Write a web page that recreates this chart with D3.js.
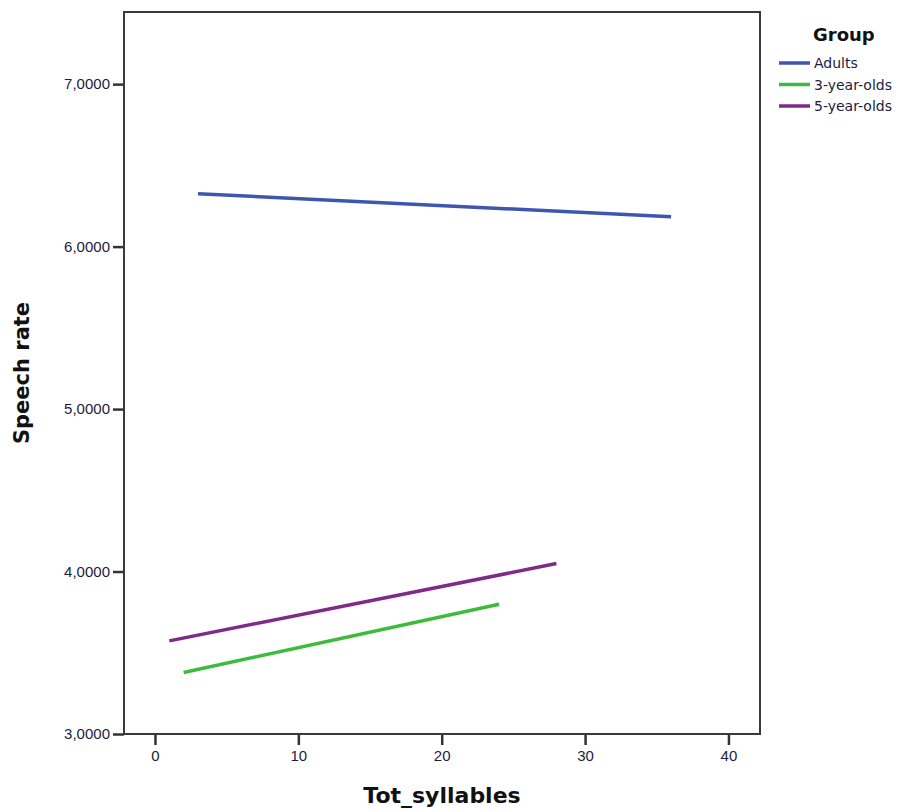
<!DOCTYPE html>
<html>
<head>
<meta charset="utf-8">
<script src="https://cdn.jsdelivr.net/npm/d3@7"></script>
<style>
  body { margin: 0; background: #fff; }
  svg { display: block; font-family: "DejaVu Sans", Verdana, sans-serif; }
</style>
</head>
<body>
<svg id="chart" width="924" height="810"></svg>
<script>
// fit lines per group: [Tot_syllables, Speech rate] at both ends
const groups = ['Adults', '3-year-olds', '5-year-olds'];
const colors = ['#3d57b0', '#3dbb3d', '#7f2a8a'];
const adults = [[3, 6.325], [36, 6.184]];
const threeYear = [[2, 3.379], [24, 3.799]];
const fiveYear = [[1, 3.573], [28, 4.049]];
const xTicks = [0, 10, 20, 30, 40];
const yTicks = [3, 4, 5, 6, 7];

const series = [adults, threeYear, fiveYear];

const plotLeft = 124, plotRight = 760, plotTop = 12, plotBottom = 734;

const svg = d3.select('#chart');

const x = d3.scaleLinear().domain([-2.16, 42.2]).range([plotLeft, plotRight]);
const y = d3.scaleLinear().domain([3, 7.444]).range([plotBottom, plotTop]);

const fmt = v => d3.format('.4f')(v).replace('.', ',');

// y axis
const yAxis = svg.append('g')
  .attr('transform', `translate(${plotLeft},0)`)
  .call(d3.axisLeft(y).tickValues(yTicks).tickFormat(fmt).tickSize(11).tickPadding(3));
yAxis.select('.domain').remove();

// x axis
const xAxis = svg.append('g')
  .attr('transform', `translate(0,${plotBottom})`)
  .call(d3.axisBottom(x).tickValues(xTicks).tickSize(11).tickPadding(5));
xAxis.select('.domain').remove();

svg.selectAll('.tick line').attr('stroke', '#333').attr('stroke-width', 2.5);
svg.selectAll('.tick text').attr('fill', '#1c1c3c').style('font-size', '15px');

// plot frame
svg.append('rect')
  .attr('x', plotLeft).attr('y', plotTop)
  .attr('width', plotRight - plotLeft).attr('height', plotBottom - plotTop)
  .attr('fill', 'none').attr('stroke', '#3a3a3a').attr('stroke-width', 2);

// fit lines
const line = d3.line().x(d => x(d[0])).y(d => y(d[1]));
svg.selectAll('.fit')
  .data(series)
  .enter()
  .append('path')
  .attr('class', 'fit')
  .attr('d', line)
  .attr('fill', 'none')
  .attr('stroke', (d, i) => colors[i])
  .attr('stroke-width', 3.5);

// axis titles
svg.append('text')
  .attr('x', (plotLeft + plotRight) / 2).attr('y', 803)
  .attr('text-anchor', 'middle')
  .style('font-size', '22px').style('font-weight', 'bold')
  .attr('fill', '#111')
  .text('Tot_syllables');

svg.append('text')
  .attr('transform', `translate(29,${(plotTop + plotBottom) / 2}) rotate(-90)`)
  .attr('text-anchor', 'middle')
  .style('font-size', '21px').style('font-weight', 'bold')
  .attr('fill', '#111')
  .text('Speech rate');

// legend
const legend = svg.append('g');
legend.append('text')
  .attr('x', 813).attr('y', 41)
  .style('font-size', '18px').style('font-weight', 'bold')
  .attr('fill', '#111')
  .text('Group');

const items = legend.selectAll('.item')
  .data(groups)
  .enter()
  .append('g')
  .attr('class', 'item')
  .attr('transform', (d, i) => `translate(0,${63 + i * 21.5})`);

items.append('line')
  .attr('x1', 779).attr('x2', 810)
  .attr('stroke', (d, i) => colors[i])
  .attr('stroke-width', 3.5);

items.append('text')
  .attr('x', 814).attr('y', 5)
  .style('font-size', '14px')
  .attr('fill', '#1c1c3c')
  .text(d => d);
</script>
</body>
</html>
